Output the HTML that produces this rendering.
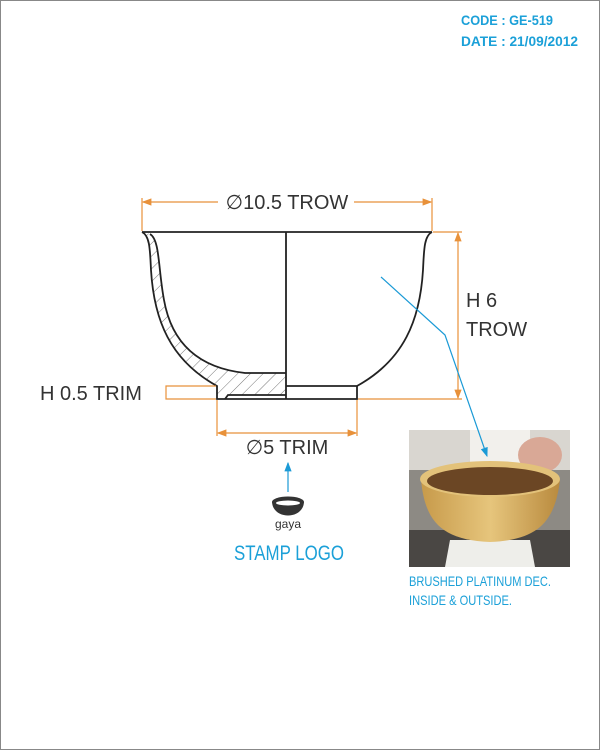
<!DOCTYPE html>
<html><head><meta charset="utf-8"><style>
html,body{margin:0;padding:0;background:#fff;}
svg{display:block;}
text{font-family:"Liberation Sans",sans-serif;}
</style></head><body>
<svg width="600" height="750" viewBox="0 0 600 750" xmlns="http://www.w3.org/2000/svg">
<defs>
<pattern id="hatch" patternUnits="userSpaceOnUse" width="9" height="9" patternTransform="rotate(45)">
<line x1="0" y1="0" x2="0" y2="9" stroke="#555" stroke-width="0.8"/></pattern>
<marker id="oa" markerWidth="8" markerHeight="8" refX="7" refY="4" orient="auto-start-reverse"><path d="M0,1 L8,4 L0,7z" fill="#e8913a"/></marker>
<marker id="ba" markerWidth="8" markerHeight="8" refX="7" refY="4" orient="auto"><path d="M0,1 L8,4 L0,7z" fill="#1b9ad6"/></marker>
<linearGradient id="bowlg" x1="0" y1="0" x2="1" y2="0"><stop offset="0" stop-color="#c79a4a"/><stop offset=".5" stop-color="#e6c57c"/><stop offset="1" stop-color="#b98a3e"/></linearGradient>
</defs>
<rect x="0.5" y="0.5" width="599" height="749" fill="#fff" stroke="#888"/>
<g fill="#1ba0d8" font-weight="bold" font-size="14">
<text x="461" y="25" textLength="92" lengthAdjust="spacingAndGlyphs">CODE : GE-519</text>
<text x="461" y="46" textLength="117" lengthAdjust="spacingAndGlyphs">DATE : 21/09/2012</text>
</g>
<path d="M142,232 C150,236 150,250 151,270 C154,320 170,360 217,386 L217,399 L225,399 L228,395 L286,395 L286,373 L245,373 C200,368 172,345 164,300 C158,268 160,240 150,234 Z" fill="url(#hatch)"/>
<g fill="none" stroke="#222" stroke-width="1.8">
<line x1="142" y1="232" x2="432" y2="232"/>
<line x1="286" y1="232" x2="286" y2="399"/>
<path d="M142,232 C150,236 150,250 151,270 C154,320 170,360 217,386 L217,399 L357,399 L357,386"/>
<path d="M150,234 C160,240 158,268 164,300 C172,345 200,368 245,373 L286,373"/>
<path d="M432,232 C424,236 424,250 423,270 C420,320 404,360 357,386 L286,386"/>
<path d="M225,399 L228,395 L286,395"/>
</g>
<g stroke="#e8913a" stroke-width="1.2" fill="none">
<line x1="142" y1="198" x2="142" y2="231"/><line x1="432" y1="198" x2="432" y2="231"/>
<line x1="143" y1="202" x2="218" y2="202" marker-start="url(#oa)"/><line x1="354" y1="202" x2="431" y2="202" marker-end="url(#oa)"/>
<line x1="433" y1="232" x2="462" y2="232"/><line x1="358" y1="399" x2="462" y2="399"/>
<line x1="458" y1="233" x2="458" y2="398" marker-start="url(#oa)" marker-end="url(#oa)"/>
<line x1="217" y1="400" x2="217" y2="436"/><line x1="357" y1="400" x2="357" y2="436"/>
<line x1="218" y1="433" x2="356" y2="433" marker-start="url(#oa)" marker-end="url(#oa)"/>
<path d="M216,386 L166,386 L166,399 L216,399"/>
</g>
<g fill="#333" font-size="20">
<text x="287" y="209" text-anchor="middle">∅10.5 TROW</text>
<text x="466" y="307">H 6</text>
<text x="466" y="336">TROW</text>
<text x="287" y="454" text-anchor="middle">∅5 TRIM</text>
<text x="40" y="400">H 0.5 TRIM</text>
</g>
<g>
<rect x="409" y="430" width="161" height="137" fill="#8d8a84"/>
<rect x="409" y="430" width="161" height="40" fill="#d9d6d0"/>
<rect x="470" y="430" width="60" height="35" fill="#f2f0ec"/>
<ellipse cx="540" cy="455" rx="22" ry="18" fill="#d9a896"/>
<rect x="409" y="530" width="161" height="37" fill="#4a4744"/>
<path d="M450,540 L530,540 L535,567 L445,567Z" fill="#eeeeea"/>
<path d="M421,480 C425,520 440,540 490,542 C540,540 555,520 560,480 Z" fill="url(#bowlg)"/>
<ellipse cx="490" cy="479" rx="70" ry="18" fill="#e3c27a"/>
<ellipse cx="490" cy="481" rx="63" ry="14" fill="#6b4624"/>
</g>
<polyline points="381,277 445,335 487,456" fill="none" stroke="#1b9ad6" stroke-width="1.2" marker-end="url(#ba)"/>
<g fill="#1ba0d8" font-size="14">
<text x="409" y="586" textLength="142" lengthAdjust="spacingAndGlyphs">BRUSHED PLATINUM DEC.</text>
<text x="409" y="605" textLength="103" lengthAdjust="spacingAndGlyphs">INSIDE &amp; OUTSIDE.</text>
</g>
<line x1="288" y1="492" x2="288" y2="463" stroke="#1b9ad6" stroke-width="1.2" marker-end="url(#ba)"/>
<g>
<path d="M272,502 C273,520 303,520 304,502 Z" fill="#333"/>
<ellipse cx="288" cy="502" rx="16" ry="5.5" fill="#333"/>
<ellipse cx="288" cy="503" rx="12" ry="2.5" fill="#fff"/>
<text x="288" y="528" text-anchor="middle" font-size="12" fill="#333">gaya</text>
<text x="289" y="560" text-anchor="middle" font-size="21" fill="#1ba0d8" textLength="110" lengthAdjust="spacingAndGlyphs">STAMP LOGO</text>
</g>
</svg>
</body></html>
